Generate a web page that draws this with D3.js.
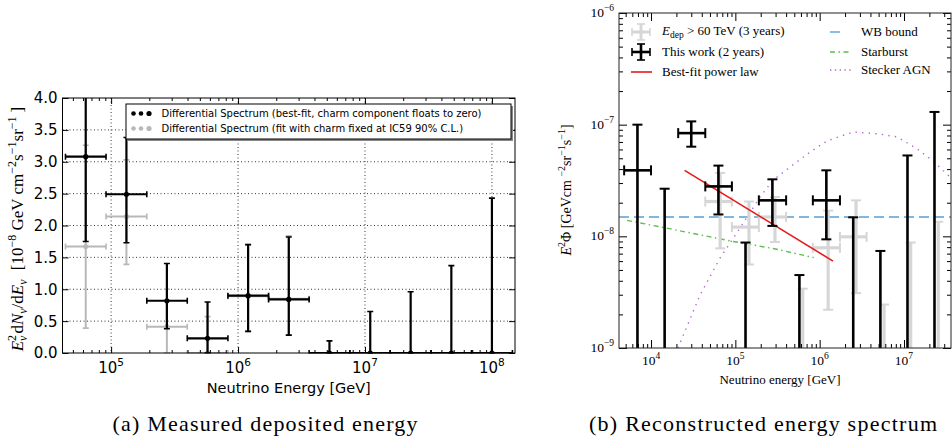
<!DOCTYPE html>
<html><head><meta charset="utf-8">
<script src="https://cdn.jsdelivr.net/npm/d3@7"></script>
<style>body{margin:0;background:#fff}svg{display:block}</style>
</head><body>
<svg id="c" width="952" height="441"></svg>
<script>
// ===================== Panel (a) data =====================
const aEnergy  = [6.31e4, 1.32e5, 2.75e5, 5.75e5, 1.2e6, 2.51e6, 5.25e6, 1.1e7, 2.29e7, 4.79e7, 1e8];
const aBinLow  = [4.37e4, 9.12e4, 1.91e5, 3.98e5, 8.32e5, 1.74e6, 3.63e6, 7.59e6, 1.58e7, 3.31e7, 6.92e7];
const aBinHigh = [9.12e4, 1.91e5, 3.98e5, 8.32e5, 1.74e6, 3.63e6, 7.59e6, 1.58e7, 3.31e7, 6.92e7, 1.45e8];
const aBestVal = [3.08, 2.49, 0.82, 0.23, 0.90, 0.84, 0, 0, 0, 0, 0];
const aBestUp  = [4.6, 3.38, 1.405, 0.80, 1.70, 1.82, 0.19, 0.65, 0.96, 1.37, 2.43];
const aBestLo  = [1.75, 1.73, 0.38, 0.0, 0.34, 0.28, 0, 0, 0, 0, 0];
const aCharmVal = [1.67, 2.14, 0.41, 0.0, 0.89, 0.85];
const aCharmUp  = [3.26, 3.03, 1.0, 0.57, 1.70, 1.84];
const aCharmLo  = [0.39, 1.39, 0.0, 0.0, 0.34, 0.28];
const aYTicks = [0, 0.5, 1, 1.5, 2, 2.5, 3, 3.5, 4];
const aYTickLabels = ["0.0", "0.5", "1.0", "1.5", "2.0", "2.5", "3.0", "3.5", "4.0"];
const aXTicks = [1e5, 1e6, 1e7, 1e8];
const aXTickExp = ["5", "6", "7", "8"];
const aLegend = ["Differential Spectrum (best-fit, charm component floats to zero)",
                 "Differential Spectrum (fit with charm fixed at IC59 90% C.L.)"];

// ===================== Panel (b) data =====================
const bEnergy  = [6.9e3, 1.45e4, 3.0e4, 6.3e4, 1.32e5, 2.75e5, 5.75e5, 1.2e6, 2.5e6, 5.25e6, 1.1e7, 2.3e7];
const bBinLow  = [4.8e3, null, 2.1e4, 4.4e4, null, 1.9e5, null, 8.3e5, null, null, null, null];
const bBinHigh = [1.0e4, null, 4.4e4, 9.1e4, null, 4.0e5, null, 1.74e6, null, null, null, null];
const bVal     = [3.9e-8, null, 8.4e-8, 2.8e-8, null, 2.1e-8, null, 2.1e-8, null, null, null, null];
const bUp      = [1.0e-7, 2.67e-8, 1.07e-7, 4.3e-8, 8.8e-9, 3.24e-8, 4.5e-9, 3.9e-8, 1.48e-8, 7.4e-9, 5.3e-8, 1.3e-7];
const bLo      = [null, null, 6.35e-8, 1.57e-8, null, 1.24e-8, null, 9.4e-9, null, null, null, null];

const gEnergy  = [6.6e4, 1.45e5, 2.95e5, 6.3e5, 1.26e6, 2.7e6, 5.8e6, 1.2e7, 2.55e7];
const gBinLow  = [4.4e4, 9.1e4, 1.9e5, null, 8.3e5, 1.74e6, null, null, null];
const gBinHigh = [9.1e4, 1.9e5, 4.0e5, null, 1.74e6, 3.6e6, null, null, null];
const gVal     = [2.05e-8, 1.21e-8, 1.49e-8, null, 7.9e-9, 9.9e-9, null, null, null];
const gUp      = [3.7e-8, 2.05e-8, 2.25e-8, 3.4e-9, 1.7e-8, 2.1e-8, 2.45e-9, 8.8e-9, 1.35e-8];
const gLo      = [7.8e-9, 5.6e-9, 8.9e-9, null, 2.2e-9, 3.1e-9, null, null, null];

const fitEnergy = [2.5e4, 1.44e6];
const fitFlux   = [3.9e-8, 6.0e-9];
const wbEnergy  = [4.17e3, 3.61e7];
const wbFlux    = [1.49e-8, 1.49e-8];
const sbEnergy  = [5.2e3, 1.4e4, 9.4e4, 3.0e5, 8.5e5];
const sbFlux    = [1.39e-8, 1.2e-8, 9.0e-9, 7.7e-9, 6.45e-9];
const agnEnergy = [2.09e4, 3.81e4, 6.59e4, 1.14e5, 1.96e5, 2.8e5, 4.45e5, 7.7e5, 1.22e6, 2.49e6, 5.2e6, 8.3e6, 1.43e7, 2.21e7, 3.52e7];
const agnFlux   = [1.0e-9, 2.98e-9, 6.4e-9, 1.19e-8, 2.25e-8, 3.19e-8, 4.17e-8, 5.69e-8, 7.15e-8, 8.6e-8, 8.24e-8, 7.76e-8, 6.07e-8, 4.73e-8, 3.4e-8];
const bYTicks = [1e-9, 1e-8, 1e-7, 1e-6];
const bYTickExp = ["−9", "−8", "−7", "−6"];
const bXTicks = [1e4, 1e5, 1e6, 1e7];
const bXTickExp = ["4", "5", "6", "7"];

// ===================== drawing =====================
const svg = d3.select("#c");
const defs = svg.append("defs");

function errBars(g, pts, xS, yS, o) {
  pts.forEach(p => {
    const X = xS(p.x);
    const yT = yS(p.u);
    const yB = p.l == null ? o.floor : yS(p.l);
    const L = (x1, y1, x2, y2, w) => g.append("line").attr("x1", x1).attr("y1", y1).attr("x2", x2).attr("y2", y2)
      .attr("stroke", o.color).attr("stroke-width", w);
    L(X, yT, X, yB, o.w);
    L(X - o.cap, yT, X + o.cap, yT, o.cw);
    if (p.l != null) L(X - o.cap, yB, X + o.cap, yB, o.cw);
    if (p.v != null && p.xl != null) {
      const Y = yS(p.v);
      L(xS(p.xl), Y, xS(p.xh), Y, o.w);
      L(xS(p.xl), Y - o.cap, xS(p.xl), Y + o.cap, o.cw);
      L(xS(p.xh), Y - o.cap, xS(p.xh), Y + o.cap, o.cw);
    }
    if (o.r && p.v != null) g.append("circle").attr("cx", X).attr("cy", yS(p.v)).attr("r", o.r).attr("fill", o.color);
  });
}
function minorTicks(lo, hi, k0, k1) {
  const out = [];
  for (let k = k0; k <= k1; k++) for (let m = 2; m <= 9; m++) { const v = m * Math.pow(10, k); if (v >= lo && v <= hi) out.push(v); }
  return out;
}
function styleAxis(sel) { sel.select(".domain").remove(); sel.selectAll("line").attr("stroke", "#000").attr("stroke-width", 1); }

// ---------- Panel (a) ----------
const A = {l: 62.5, r: 515, t: 98, b: 353};
const xA = d3.scaleLog().domain([4.14e4, 1.52e8]).range([A.l, A.r]);
const yA = d3.scaleLinear().domain([0, 4]).range([A.b, A.t]);
defs.append("clipPath").attr("id", "clipA").append("rect").attr("x", A.l).attr("y", A.t).attr("width", A.r - A.l).attr("height", A.b - A.t + 0.5);
const gA = svg.append("g");

// grid
gA.append("g").selectAll("line").data(aXTicks).join("line")
  .attr("x1", d => xA(d)).attr("x2", d => xA(d)).attr("y1", A.t).attr("y2", A.b)
  .attr("stroke", "#000").attr("stroke-width", 0.8).attr("stroke-dasharray", "1,2.5");
gA.append("g").selectAll("line").data(aYTicks.slice(1, -1)).join("line")
  .attr("x1", A.l).attr("x2", A.r).attr("y1", d => yA(d)).attr("y2", d => yA(d))
  .attr("stroke", "#000").attr("stroke-width", 0.8).attr("stroke-dasharray", "1,2.5");

// data
const aGrayPts = aCharmVal.map((v, i) => ({x: aEnergy[i], xl: aBinLow[i], xh: aBinHigh[i], v, u: aCharmUp[i], l: aCharmLo[i]}));
const aBlackPts = aBestVal.map((v, i) => ({x: aEnergy[i], xl: aBinLow[i], xh: aBinHigh[i], v, u: aBestUp[i], l: aBestLo[i]}));
const gAd = gA.append("g").attr("clip-path", "url(#clipA)");
errBars(gAd, aGrayPts, xA, yA, {color: "#b8b8b8", w: 2, cw: 1.6, cap: 3, r: 2.6});
errBars(gAd, aBlackPts, xA, yA, {color: "#000", w: 2.2, cw: 1.6, cap: 3, r: 2.6});

// ticks
const aMinor = minorTicks(4.14e4, 1.52e8, 4, 8);
gA.append("g").attr("transform", `translate(0,${A.b})`).call(d3.axisBottom(xA).tickValues(aXTicks).tickSize(-6).tickFormat("")).call(styleAxis);
gA.append("g").attr("transform", `translate(0,${A.b})`).call(d3.axisBottom(xA).tickValues(aMinor).tickSize(-3).tickFormat("")).call(styleAxis);
gA.append("g").attr("transform", `translate(0,${A.t})`).call(d3.axisTop(xA).tickValues(aXTicks).tickSize(-6).tickFormat("")).call(styleAxis);
gA.append("g").attr("transform", `translate(0,${A.t})`).call(d3.axisTop(xA).tickValues(aMinor).tickSize(-3).tickFormat("")).call(styleAxis);
gA.append("g").attr("transform", `translate(${A.l},0)`).call(d3.axisLeft(yA).tickValues(aYTicks).tickSize(-6).tickFormat("")).call(styleAxis);
gA.append("g").attr("transform", `translate(${A.r},0)`).call(d3.axisRight(yA).tickValues(aYTicks).tickSize(-6).tickFormat("")).call(styleAxis);
gA.append("rect").attr("x", A.l).attr("y", A.t).attr("width", A.r - A.l).attr("height", A.b - A.t)
  .attr("fill", "none").attr("stroke", "#000").attr("stroke-width", 1);

// tick labels
gA.append("g").selectAll("text").data(aYTicks).join("text")
  .attr("x", A.l - 5).attr("y", d => yA(d)).attr("dy", "0.36em").attr("text-anchor", "end")
  .attr("font-family", "DejaVu Sans").attr("font-size", 15).text((d, i) => aYTickLabels[i]);
aXTicks.forEach((d, i) => {
  const t = gA.append("text").attr("x", xA(d)).attr("y", 373).attr("text-anchor", "middle")
    .attr("font-family", "DejaVu Sans").attr("font-size", 15);
  t.append("tspan").text("10");
  t.append("tspan").attr("dy", -7).attr("font-size", 10.5).text(aXTickExp[i]);
});
gA.append("text").attr("x", (A.l + A.r) / 2).attr("y", 393).attr("text-anchor", "middle")
  .attr("font-family", "DejaVu Sans").attr("font-size", 14.5).text("Neutrino Energy [GeV]");

// y label (a)
{
  const t = gA.append("text").attr("transform", "translate(23,229) rotate(-90)").attr("text-anchor", "middle")
    .attr("font-family", "Liberation Serif").attr("font-size", 17);
  const ts = (s, o = {}) => { const e = t.append("tspan").text(s); if (o.it) e.attr("font-style", "italic"); if (o.dy) e.attr("dy", o.dy); if (o.dx) e.attr("dx", o.dx); if (o.fs) e.attr("font-size", o.fs); return e; };
  ts("E", {it: 1}); ts("2", {dy: -7, fs: 12}); ts("ν", {it: 1, dy: 11, dx: -6, fs: 12});
  ts("d", {dy: -4, dx: 2}); ts("N", {it: 1}); ts("ν", {it: 1, dy: 4, fs: 12}); ts("/d", {dy: -4}); ts("E", {it: 1}); ts("ν", {it: 1, dy: 4, fs: 12});
  ts("  [10", {dy: -4, dx: 5}); ts("−8", {dy: -7, fs: 12}); ts(" GeV cm", {dy: 7}); ts("−2", {dy: -7, fs: 12});
  ts("s", {dy: 7}); ts("−1", {dy: -7, fs: 12}); ts("sr", {dy: 7}); ts("−1", {dy: -7, fs: 12}); ts("]", {dy: 7, dx: 4});
}

// legend (a)
{
  const lg = gA.append("g");
  lg.append("rect").attr("x", 128).attr("y", 106).attr("width", 385).attr("height", 35).attr("fill", "#888");
  lg.append("rect").attr("x", 126).attr("y", 104).attr("width", 385).attr("height", 35).attr("fill", "#fff").attr("stroke", "#000").attr("stroke-width", 1);
  const rows = [{y: 113.5, c: "#000"}, {y: 128.5, c: "#b8b8b8"}];
  rows.forEach((r, i) => {
    lg.append("g").selectAll("circle").data([133.5, 141, 149]).join("circle")
      .attr("cx", d => d).attr("cy", r.y).attr("r", (d, j) => j === 2 ? 2.6 : 2.3).attr("fill", r.c);
    lg.append("text").attr("x", 161.5).attr("y", r.y).attr("dy", "0.36em").attr("font-family", "DejaVu Sans")
      .attr("font-size", 10).text(aLegend[i]);
  });
}

// ---------- Panel (b) ----------
const B = {l: 619, r: 951, t: 13, b: 348};
const xB = d3.scaleLog().domain([4.17e3, 3.61e7]).range([B.l, B.r]);
const yB = d3.scaleLog().domain([1e-9, 1e-6]).range([B.b, B.t]);
defs.append("clipPath").attr("id", "clipB").append("rect").attr("x", B.l).attr("y", B.t).attr("width", B.r - B.l).attr("height", B.b - B.t);
const gB = svg.append("g");
const gBd = gB.append("g").attr("clip-path", "url(#clipB)");

const line = d3.line().x(d => xB(d[0])).y(d => yB(d[1]));
gBd.append("path").attr("d", line(agnEnergy.map((e, i) => [e, agnFlux[i]]))).attr("fill", "none")
  .attr("stroke", "#b36bd6").attr("stroke-width", 1.4).attr("stroke-dasharray", "1.4,5.2");
gBd.append("path").attr("d", line(sbEnergy.map((e, i) => [e, sbFlux[i]]))).attr("fill", "none")
  .attr("stroke", "#5cbf4e").attr("stroke-width", 1.4).attr("stroke-dasharray", "5,3.5,1.5,3.5");
gBd.append("path").attr("d", line(wbEnergy.map((e, i) => [e, wbFlux[i]]))).attr("fill", "none")
  .attr("stroke", "#5a9fd4").attr("stroke-width", 1.4).attr("stroke-dasharray", "10,5");

const bGrayPts = gVal.map((v, i) => ({x: gEnergy[i], xl: gBinLow[i], xh: gBinHigh[i], v, u: gUp[i], l: gLo[i]}));
const bBlackPts = bVal.map((v, i) => ({x: bEnergy[i], xl: bBinLow[i], xh: bBinHigh[i], v, u: bUp[i], l: bLo[i]}));
errBars(gBd, bGrayPts, xB, yB, {color: "#d6d6d6", w: 3.2, cw: 2, cap: 5, floor: B.b + 5});
gBd.append("path").attr("d", line(fitEnergy.map((e, i) => [e, fitFlux[i]]))).attr("fill", "none")
  .attr("stroke", "#e41a1c").attr("stroke-width", 1.6);
errBars(gBd, bBlackPts, xB, yB, {color: "#000", w: 2.6, cw: 2, cap: 5, floor: B.b + 5});

// ticks (b)
const bXMinor = minorTicks(4.17e3, 3.61e7, 3, 7);
const bYMinor = minorTicks(1e-9, 1e-6, -9, -7);
const ax = (gen, tr) => gB.append("g").attr("transform", tr).call(gen).call(styleAxis);
ax(d3.axisBottom(xB).tickValues(bXTicks).tickSize(-8).tickFormat(""), `translate(0,${B.b})`);
ax(d3.axisBottom(xB).tickValues(bXMinor).tickSize(-4).tickFormat(""), `translate(0,${B.b})`);
ax(d3.axisTop(xB).tickValues(bXTicks).tickSize(-8).tickFormat(""), `translate(0,${B.t})`);
ax(d3.axisTop(xB).tickValues(bXMinor).tickSize(-4).tickFormat(""), `translate(0,${B.t})`);
ax(d3.axisLeft(yB).tickValues(bYTicks).tickSize(-8).tickFormat(""), `translate(${B.l},0)`);
ax(d3.axisLeft(yB).tickValues(bYMinor).tickSize(-4).tickFormat(""), `translate(${B.l},0)`);
ax(d3.axisRight(yB).tickValues(bYTicks).tickSize(-8).tickFormat(""), `translate(${B.r},0)`);
ax(d3.axisRight(yB).tickValues(bYMinor).tickSize(-4).tickFormat(""), `translate(${B.r},0)`);
gB.append("rect").attr("x", B.l).attr("y", B.t).attr("width", B.r - B.l).attr("height", B.b - B.t)
  .attr("fill", "none").attr("stroke", "#222").attr("stroke-width", 1);

bYTicks.forEach((d, i) => {
  const t = gB.append("text").attr("x", B.l - 5).attr("y", yB(d) + 4).attr("text-anchor", "end")
    .attr("font-family", "Liberation Serif").attr("font-size", 13.5);
  t.append("tspan").text("10");
  t.append("tspan").attr("dy", -6).attr("font-size", 9.5).text(bYTickExp[i]);
});
bXTicks.forEach((d, i) => {
  const t = gB.append("text").attr("x", xB(d)).attr("y", 365).attr("text-anchor", "middle")
    .attr("font-family", "Liberation Serif").attr("font-size", 13.5);
  t.append("tspan").text("10");
  t.append("tspan").attr("dy", -6).attr("font-size", 9.5).text(bXTickExp[i]);
});
gB.append("text").attr("x", 780).attr("y", 384).attr("text-anchor", "middle")
  .attr("font-family", "Liberation Serif").attr("font-size", 13).text("Neutrino energy [GeV]");
{
  const t = gB.append("text").attr("transform", "translate(571,190) rotate(-90)").attr("text-anchor", "middle")
    .attr("font-family", "Liberation Serif").attr("font-size", 14);
  t.append("tspan").attr("font-style", "italic").text("E");
  t.append("tspan").attr("dy", -6).attr("font-size", 10).text("2");
  t.append("tspan").attr("dy", 6).text("Φ [GeVcm  ");
  t.append("tspan").attr("dy", -6).attr("font-size", 10).text("−2");
  t.append("tspan").attr("dy", 6).text("sr");
  t.append("tspan").attr("dy", -6).attr("font-size", 10).text("−1");
  t.append("tspan").attr("dy", 6).text("s");
  t.append("tspan").attr("dy", -6).attr("font-size", 10).text("−1");
  t.append("tspan").attr("dy", 6).text("]");
}

// legend (b)
{
  const lg = gB.append("g");
  const cross = (cx, cy, c, w) => {
    const L = (x1, y1, x2, y2, sw) => lg.append("line").attr("x1", x1).attr("y1", y1).attr("x2", x2).attr("y2", y2).attr("stroke", c).attr("stroke-width", sw);
    L(cx - 9, cy, cx + 9, cy, w); L(cx, cy - 8, cx, cy + 8, w);
    L(cx - 9, cy - 4, cx - 9, cy + 4, 1.6); L(cx + 9, cy - 4, cx + 9, cy + 4, 1.6);
    L(cx - 4, cy - 8, cx + 4, cy - 8, 1.6); L(cx - 4, cy + 8, cx + 4, cy + 8, 1.6);
  };
  cross(641, 32, "#d6d6d6", 3); cross(641, 52, "#000", 2.6);
  lg.append("line").attr("x1", 631).attr("x2", 652).attr("y1", 72).attr("y2", 72).attr("stroke", "#e41a1c").attr("stroke-width", 1.6);
  const txt = (x, y) => lg.append("text").attr("x", x).attr("y", y).attr("dy", "0.33em").attr("font-family", "Liberation Serif").attr("font-size", 13);
  const t1 = txt(662, 31);
  t1.append("tspan").attr("font-style", "italic").text("E");
  t1.append("tspan").attr("dy", 3).attr("font-size", 9.5).text("dep");
  t1.append("tspan").attr("dy", -3).text(" > 60 TeV (3 years)");
  txt(662, 52).text("This work (2 years)");
  txt(662, 72).text("Best-fit power law");
  lg.append("line").attr("x1", 830).attr("x2", 840).attr("y1", 32).attr("y2", 32).attr("stroke", "#5a9fd4").attr("stroke-width", 1.4);
  lg.append("line").attr("x1", 830).attr("x2", 851).attr("y1", 52).attr("y2", 52).attr("stroke", "#5cbf4e").attr("stroke-width", 1.4).attr("stroke-dasharray", "5,3.5,1.5,3.5");
  lg.append("line").attr("x1", 830).attr("x2", 851).attr("y1", 70).attr("y2", 70).attr("stroke", "#b36bd6").attr("stroke-width", 1.4).attr("stroke-dasharray", "1.4,3.4");
  txt(861, 32).text("WB bound");
  txt(861, 52).text("Starburst");
  txt(861, 70).text("Stecker AGN");
}

// captions
svg.append("text").attr("x", 265).attr("y", 431).attr("text-anchor", "middle").attr("font-family", "Liberation Serif")
  .attr("font-size", 22).attr("textLength", 305).attr("lengthAdjust", "spacing").text("(a) Measured deposited energy");
svg.append("text").attr("x", 763).attr("y", 431).attr("text-anchor", "middle").attr("font-family", "Liberation Serif")
  .attr("font-size", 22).attr("textLength", 348).attr("lengthAdjust", "spacing").text("(b) Reconstructed energy spectrum");
</script>
</body></html>
